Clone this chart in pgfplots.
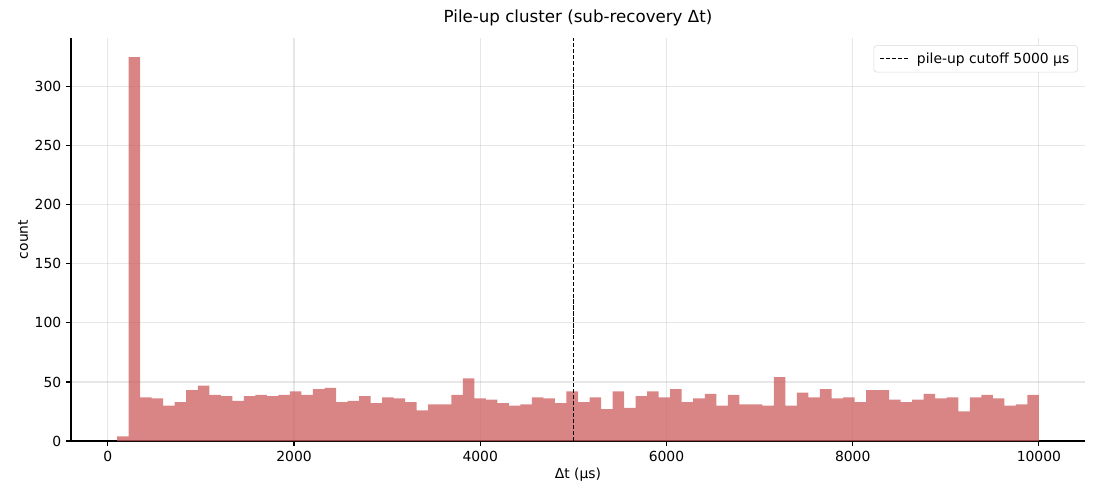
\documentclass[border=0pt]{standalone}
\usepackage{pgfplots}
\pgfplotsset{compat=1.18}
\usepackage{fontspec}
\setmainfont{DejaVu Sans}
\definecolor{indianred}{RGB}{205,92,92}
\definecolor{gridgray}{RGB}{176,176,176}
\begin{document}
\begin{tikzpicture}
\path[use as bounding box] (-51.12pt,-42.48pt) rectangle (740.88pt,317.52pt);
\begin{axis}[
  at={(0,0)}, anchor=south west,
  scale only axis, width=730.08pt, height=290.16pt,
  xmin=-395, xmax=10495, ymin=0, ymax=341.25,
  axis lines*=left,
  axis line style={line width=0.8pt},
  xtick={0,2000,4000,6000,8000,10000},
  ytick={0,50,100,150,200,250,300},
  scaled ticks=false,
  tick style={black, line width=0.8pt},
  tick align=outside, major tick length=3.5pt,
  /pgf/number format/1000 sep={},
  /pgf/number format/assume math mode=true,
  ticklabel style={font=\fontsize{10}{12}\selectfont},
  grid=major,
  grid style={gridgray, opacity=0.3, line width=0.8pt},
  title={Pile-up cluster (sub-recovery Δt)},
  title style={font=\fontsize{12}{14}\selectfont, yshift=-1pt},
  xlabel={Δt (µs)},
  ylabel={count},
  label style={font=\fontsize{10}{12}\selectfont},
  xlabel style={yshift=2pt},
  ylabel style={yshift=-2pt},
  legend style={font=\fontsize{10}{12}\selectfont, draw=black!15, rounded corners=2pt, at={(0.993,0.982)}, anchor=north east, inner xsep=4pt, inner ysep=3pt},
  legend image code/.code={\draw[#1] (0pt,0pt) -- (20pt,0pt);},
  legend cell align=left,
]
\addplot[ybar interval, fill=indianred, fill opacity=0.75, draw=none, forget plot] coordinates {
(100,4) (223.75,325) (347.5,37) (471.25,36) (595,30) (718.75,33) (842.5,43) (966.25,47)
(1090,39) (1213.75,38) (1337.5,34) (1461.25,38) (1585,39) (1708.75,38) (1832.5,39) (1956.25,42)
(2080,39) (2203.75,44) (2327.5,45) (2451.25,33) (2575,34) (2698.75,38) (2822.5,32) (2946.25,37)
(3070,36) (3193.75,33) (3317.5,26) (3441.25,31) (3565,31) (3688.75,39) (3812.5,53) (3936.25,36)
(4060,35) (4183.75,32) (4307.5,30) (4431.25,31) (4555,37) (4678.75,36) (4802.5,32) (4926.25,42)
(5050,33) (5173.75,37) (5297.5,27) (5421.25,42) (5545,28) (5668.75,38) (5792.5,42) (5916.25,37)
(6040,44) (6163.75,33) (6287.5,36) (6411.25,40) (6535,30) (6658.75,39) (6782.5,31) (6906.25,31)
(7030,30) (7153.75,54) (7277.5,30) (7401.25,41) (7525,37) (7648.75,44) (7772.5,36) (7896.25,37)
(8020,33) (8143.75,43) (8267.5,43) (8391.25,35) (8515,33) (8638.75,35) (8762.5,40) (8886.25,36)
(9010,37) (9133.75,25) (9257.5,37) (9381.25,39) (9505,36) (9628.75,30) (9752.5,31) (9876.25,39)
(10000,39)
};
\addplot[black, dash pattern=on 3pt off 1.3pt, line width=1pt] coordinates {(5000,0) (5000,341.25)};
\addlegendentry{\hspace{4pt}pile-up cutoff 5000 µs}
\end{axis}
\end{tikzpicture}
\end{document}
